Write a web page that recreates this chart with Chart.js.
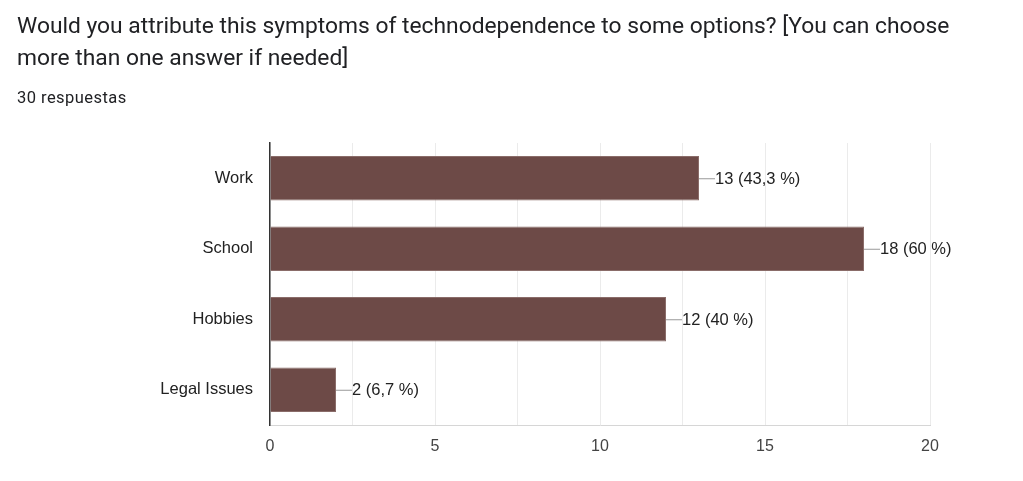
<!DOCTYPE html>
<html>
<head>
<meta charset="utf-8">
<script src="https://cdn.jsdelivr.net/npm/chart.js@4"></script>
<style>
  html, body { margin: 0; padding: 0; background: #fff; }
  #wrap { position: relative; width: 1023px; height: 481px; }
  #title { position: absolute; left: 17px; top: 10px; font-family: Roboto, "Noto Sans", sans-serif; font-size: 22.8px; line-height: 32px; color: #202124; white-space: nowrap; }
  #sub { position: absolute; left: 17px; top: 88px; font-family: Roboto, "Noto Sans", sans-serif; font-size: 16.5px; letter-spacing: 0.45px; color: #202124; }
  canvas { position: absolute; left: 0; top: 0; }
</style>
</head>
<body>
<div id="wrap">
  <canvas id="myChart" width="1023" height="481"></canvas>
  <div id="title">Would you attribute this symptoms of technodependence to some options? [You can choose<br>more than one answer if needed]</div>
  <div id="sub">30 respuestas</div>
</div>
<script>
let labels = ['Work', 'School', 'Hobbies', 'Legal Issues'];
let counts = [13, 18, 12, 2];
let percents = ['43,3', '60', '40', '6,7'];
let ticks = [0, 5, 10, 15, 20];

const fontFam = 'Arial, "Liberation Sans", sans-serif';

// leader line + "n (p %)" after each bar
const barLabels = {
  id: 'barLabels',
  afterDatasetsDraw(chart) {
    let c = chart.ctx;
    let meta = chart.getDatasetMeta(0);
    c.save();
    c.font = '16.5px ' + fontFam;
    c.fillStyle = '#222';
    c.textBaseline = 'middle';
    meta.data.forEach((bar, i) => {
      c.strokeStyle = '#999';
      c.lineWidth = 1;
      c.beginPath();
      c.moveTo(bar.x, bar.y + 0.5);
      c.lineTo(bar.x + 16, bar.y + 0.5);
      c.stroke();
      c.fillText(counts[i] + ' (' + percents[i] + ' %)', bar.x + 16, bar.y + 1);
    });
    c.restore();
  }
};

let ctx = document.getElementById('myChart').getContext('2d');
let myChart = new Chart(ctx, {
  type: 'bar',
  data: {
    labels: labels,
    datasets: [{
      data: counts,
      backgroundColor: '#6d4a47',
      borderColor: '#8a6c69',
      borderWidth: 1,
      borderSkipped: 'left',
      categoryPercentage: 1,
      barPercentage: 0.63
    }]
  },
  options: {
    indexAxis: 'y',
    responsive: false,
    animation: false,
    layout: { padding: { top: 143, right: 93, left: 0, bottom: 0 } },
    plugins: { legend: { display: false }, tooltip: { enabled: false } },
    scales: {
      x: {
        min: 0,
        max: 20,
        afterFit: (s) => { s.height = 56; },
        afterBuildTicks: (s) => {
          let t = [];
          for (let v = 0; v <= 20; v += 2.5) t.push({ value: v });
          s.ticks = t;
        },
        ticks: {
          padding: 12,
          color: '#444',
          font: { family: fontFam, size: 16 },
          callback: (v) => ticks.includes(v) ? v : ''
        },
        grid: { color: '#ebebeb', drawTicks: false },
        border: { color: '#d6d6d6' }
      },
      y: {
        afterFit: (s) => { s.width = 270; },
        ticks: {
          padding: 17,
          color: '#222',
          font: { family: fontFam, size: 16.5 }
        },
        grid: { display: false, drawTicks: false },
        border: { color: '#333', width: 1.5 }
      }
    }
  },
  plugins: [barLabels]
});
</script>
</body>
</html>
